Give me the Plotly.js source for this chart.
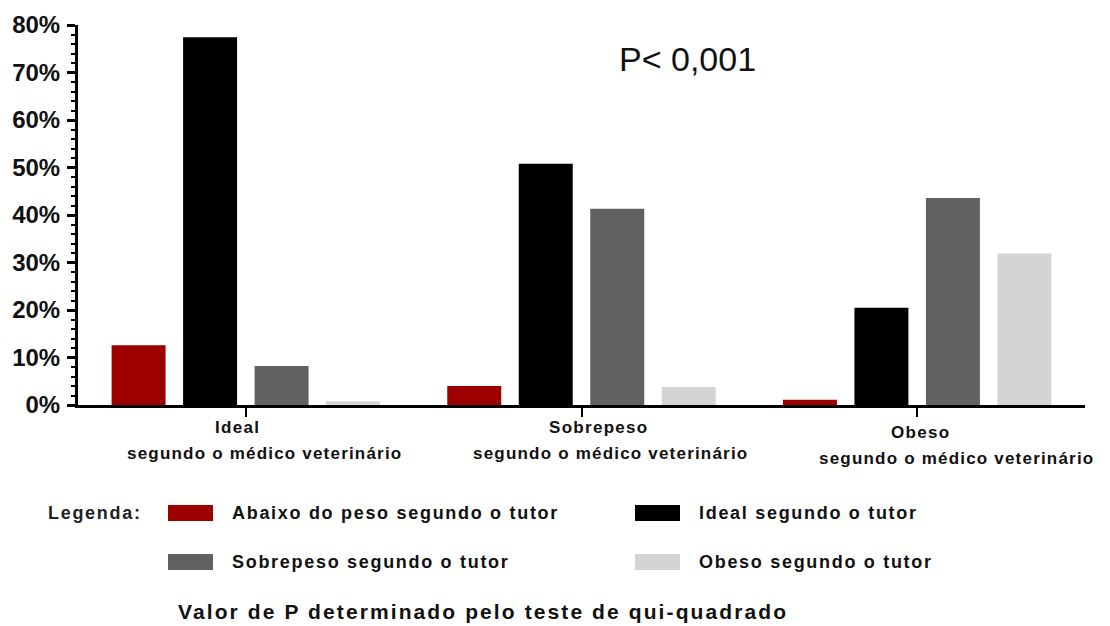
<!DOCTYPE html>
<html>
<head>
<meta charset="utf-8">
<script src="https://cdn.plot.ly/plotly-3.0.1.min.js"></script>
<style>
html,body{margin:0;padding:0;background:#fff;}
#chart{width:1110px;height:626px;}
</style>
</head>
<body>
<div id="chart"></div>
<script>
// ---- data ----
const categories = ['Ideal', 'Sobrepeso', 'Obeso'];
const categorySubtitle = 'segundo o médico veterinário';
const seriesNames = ['Abaixo do peso segundo o tutor', 'Ideal segundo o tutor', 'Sobrepeso segundo o tutor', 'Obeso segundo o tutor'];
const abaixoPeso = [12.6, 4.0, 1.1];
const idealTutor = [77.4, 50.8, 20.5];
const sobrepesoTutor = [8.2, 41.3, 43.6];
const obesoTutor = [0.8, 3.8, 31.9];
const yTickVals = [0, 10, 20, 30, 40, 50, 60, 70, 80];
const yTickText = ['0%', '10%', '20%', '30%', '40%', '50%', '60%', '70%', '80%'];
const pValueText = 'P< 0,001';
const legendTitle = 'Legenda:';
const captionText = 'Valor de P determinado pelo teste de qui-quadrado';

// ---- styles ----
const colors = ['#9e0000', '#000000', '#616161', '#d4d4d4'];
const FONT = 'Liberation Sans, Arial, Helvetica, sans-serif';
const W = 1110, H = 626;
const M = {l: 78, r: 25, t: 25, b: 221};
const plotW = W - M.l - M.r, plotH = H - M.t - M.b;
const px2x = p => (p - M.l) / plotW;
const py2y = p => (H - M.b - p) / plotH;
const spaced = (t, s) => '<span style="letter-spacing:' + s + 'px">' + t + '</span>';

const seriesValues = [abaixoPeso, idealTutor, sobrepesoTutor, obesoTutor];
const traces = seriesValues.map((vals, i) => ({
  type: 'bar',
  x: categories,
  y: vals,
  name: seriesNames[i],
  marker: {color: colors[i], line: {width: 0}},
  hoverinfo: 'x+y+name'
}));

// category label offsets (pixels): [line1 xshift, line2 xshift, extra y drop]
const catLabelShift = [[-8, 19, 0], [17, 29, 0], [3, 39, 5]];
const annotations = [];
categories.forEach((c, i) => {
  annotations.push({x: c, xref: 'x', y: 0, yref: 'paper', yanchor: 'middle', xanchor: 'center',
    xshift: catLabelShift[i][0], yshift: -22 - catLabelShift[i][2], text: spaced(c, 1.3), showarrow: false,
    font: {family: FONT, size: 17, color: '#111', weight: 'bold'}});
  annotations.push({x: c, xref: 'x', y: 0, yref: 'paper', yanchor: 'middle', xanchor: 'center',
    xshift: catLabelShift[i][1], yshift: -48 - catLabelShift[i][2], text: spaced(categorySubtitle, 1.2), showarrow: false,
    font: {family: FONT, size: 17, color: '#111', weight: 'bold'}});
});
annotations.push({x: px2x(687), xref: 'paper', y: py2y(59), yref: 'paper', xanchor: 'center', yanchor: 'middle',
  text: pValueText, showarrow: false, font: {family: FONT, size: 34, color: '#111'}});
annotations.push({x: px2x(46), xref: 'paper', y: py2y(513), yref: 'paper', xanchor: 'left', yanchor: 'middle',
  text: spaced(legendTitle, 1.7), showarrow: false, font: {family: FONT, size: 18, color: '#222', weight: 'bold'}});
annotations.push({x: px2x(176), xref: 'paper', y: py2y(611), yref: 'paper', xanchor: 'left', yanchor: 'middle',
  text: spaced(captionText, 2.1), showarrow: false, font: {family: FONT, size: 21, color: '#111', weight: 'bold'}});

// custom legend
const legCols = [168, 635], legRows = [513, 562];
const shapes = [];
seriesNames.forEach((n, i) => {
  const cx = legCols[i % 2], cy = legRows[Math.floor(i / 2)];
  shapes.push({type: 'rect', xref: 'paper', yref: 'paper', x0: px2x(cx), x1: px2x(cx + 45),
    y0: py2y(cy - 8), y1: py2y(cy + 8), fillcolor: colors[i], line: {width: 0}});
  annotations.push({x: px2x(cx + 62), xref: 'paper', y: py2y(cy), yref: 'paper', xanchor: 'left', yanchor: 'middle',
    text: spaced(n, 1.7), showarrow: false, font: {family: FONT, size: 18, color: '#111', weight: 'bold'}});
});

const layout = {
  width: W, height: H,
  margin: M,
  paper_bgcolor: '#fff', plot_bgcolor: '#fff',
  showlegend: false,
  barmode: 'group',
  bargap: 0.148,
  bargroupgap: 0.245,
  font: {family: FONT, color: '#111'},
  xaxis: {
    type: 'category', range: [-0.5, 2.5],
    showline: true, linecolor: '#000', linewidth: 3,
    ticks: 'outside', ticklen: 9, tickwidth: 2, tickcolor: '#000',
    showticklabels: false, showgrid: false, zeroline: false, fixedrange: true
  },
  yaxis: {
    range: [0, 80],
    tickvals: yTickVals, ticktext: yTickText,
    showline: true, linecolor: '#000', linewidth: 3,
    ticks: 'outside', ticklen: 8, tickwidth: 3, tickcolor: '#000',
    minor: {dtick: 2, ticklen: 4, tickwidth: 2, tickcolor: '#000', ticks: 'outside', showgrid: false},
    tickfont: {family: FONT, size: 24, color: '#111', weight: 'bold'},
    ticklabelstandoff: 2,
    showgrid: false, zeroline: false, fixedrange: true
  },
  annotations: annotations,
  shapes: shapes
};

Plotly.newPlot('chart', traces, layout, {displayModeBar: false, staticPlot: true});
</script>
</body>
</html>
